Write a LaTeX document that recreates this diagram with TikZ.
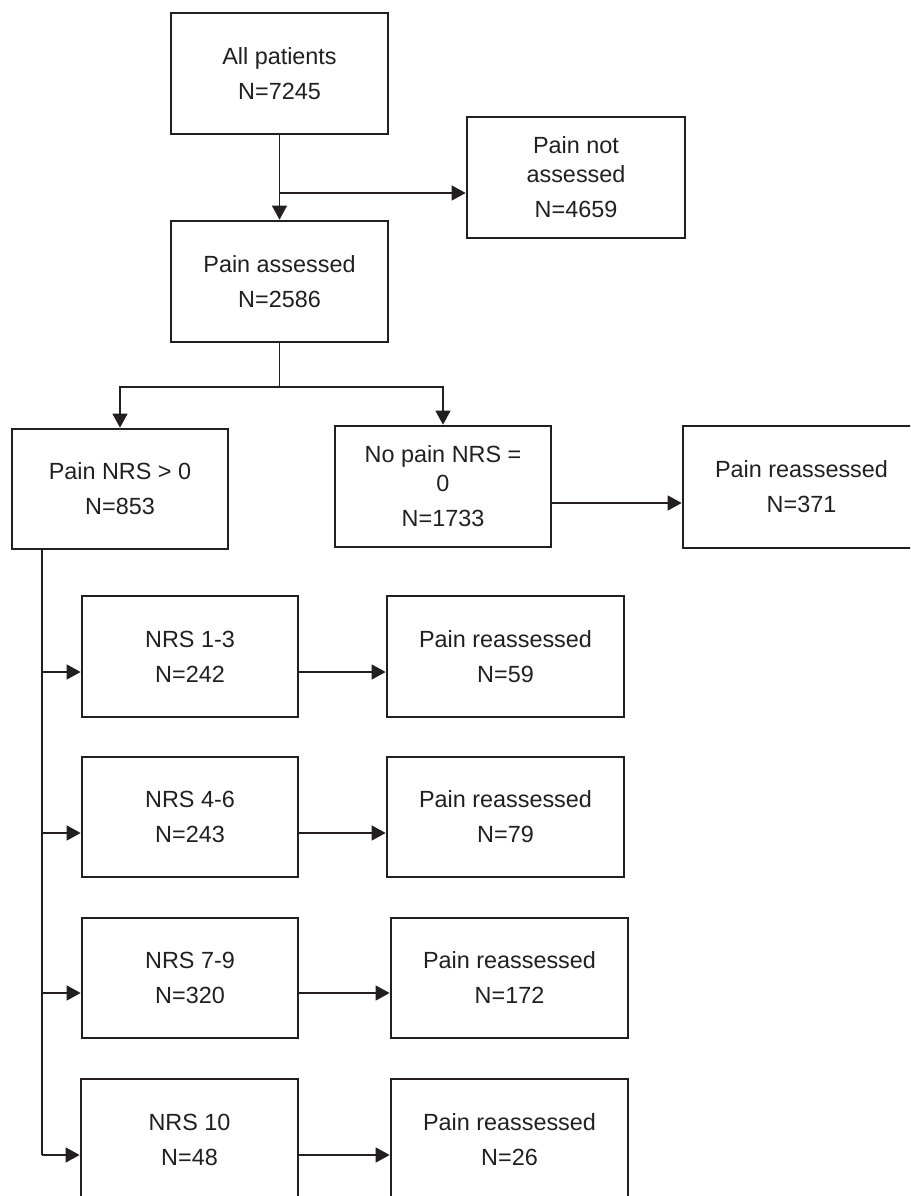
\documentclass[tikz,border=0pt]{standalone}
\usepackage{fontspec}
\setmainfont{Liberation Sans}
\usetikzlibrary{arrows.meta}
\definecolor{ink}{HTML}{231F20}
\tikzset{
  box/.style={draw=ink, line width=2.7pt, rectangle, inner sep=0pt, align=center,
    text=ink, font=\fontsize{23.4}{29}\selectfont, minimum height=121pt},
  sbox/.style={box, minimum width=217pt},
  rbox/.style={box, minimum width=237pt},
  conn/.style={draw=ink, line width=1.3pt},
  arr/.style={conn, -{Triangle[length=14pt,width=15pt]}}
}
\begin{document}
\begin{tikzpicture}[x=1pt,y=-1pt]
\path[use as bounding box, clip] (0,0) rectangle (910,1196);
\fill[white] (0,0) rectangle (910,1196);

\node[sbox] (all) at (279.5,73.5) {All patients\\[6pt]N=7245};
\node[sbox, minimum width=218pt] (pna) at (576,177.5) {Pain not\\assessed\\[6pt]N=4659};
\node[sbox] (pa) at (279.5,281.5) {Pain assessed\\[6pt]N=2586};
\node[sbox, minimum width=216pt, minimum height=120pt] (n0) at (120,489) {Pain NRS > 0\\[6pt]N=853};
\node[sbox, minimum width=216pt] (np) at (443,486.5) {No pain NRS =\\0\\[6pt]N=1733};
\node[rbox, minimum height=122pt] (r371) at (801.5,487) {Pain reassessed\\[6pt]N=371};

\node[sbox, minimum width=216pt] (n13) at (190,656.5) {NRS 1-3\\[6pt]N=242};
\node[rbox] (r59) at (505.5,656.5) {Pain reassessed\\[6pt]N=59};
\node[sbox, minimum width=216pt, minimum height=120pt] (n46) at (190,817) {NRS 4-6\\[6pt]N=243};
\node[rbox, minimum height=120pt] (r79) at (505.5,817) {Pain reassessed\\[6pt]N=79};
\node[sbox, minimum width=216pt, minimum height=120pt] (n79) at (190,978) {NRS 7-9\\[6pt]N=320};
\node[rbox, minimum height=120pt] (r172) at (509.5,978) {Pain reassessed\\[6pt]N=172};
\node[sbox] (n10) at (189.5,1139.5) {NRS 10\\[6pt]N=48};
\node[rbox] (r26) at (509.5,1139.5) {Pain reassessed\\[6pt]N=26};

% top connectors
\draw[arr] (all.south) -- (pa.north);
\coordinate (j1) at (279.5,193);
\draw[arr] (j1) -- (j1 -| pna.west);

\coordinate (j2) at (279.5,387);
\draw[conn] (pa.south) -- (j2);
\draw[arr] (j2) -| (n0.north);
\draw[arr] (j2) -| (np.north);

\draw[arr] ([yshift=-16.5pt]np.east) -- ([yshift=-16.5pt]np.east -| r371.west);

% spine
\coordinate (b1) at (42,672);
\coordinate (b2) at (42,833);
\coordinate (b3) at (42,993);
\coordinate (b4) at (42,1155);
\draw[conn] (b4 |- n0.south) -- (b4);
\draw[arr] (b1) -- (b1 -| n13.west);
\draw[arr] (b2) -- (b2 -| n46.west);
\draw[arr] (b3) -- (b3 -| n79.west);
\draw[arr] (b4) -- (b4 -| n10.west);

\draw[arr] (b1 -| n13.east) -- (b1 -| r59.west);
\draw[arr] (b2 -| n46.east) -- (b2 -| r79.west);
\draw[arr] (b3 -| n79.east) -- (b3 -| r172.west);
\draw[arr] (b4 -| n10.east) -- (b4 -| r26.west);
\end{tikzpicture}
\end{document}
